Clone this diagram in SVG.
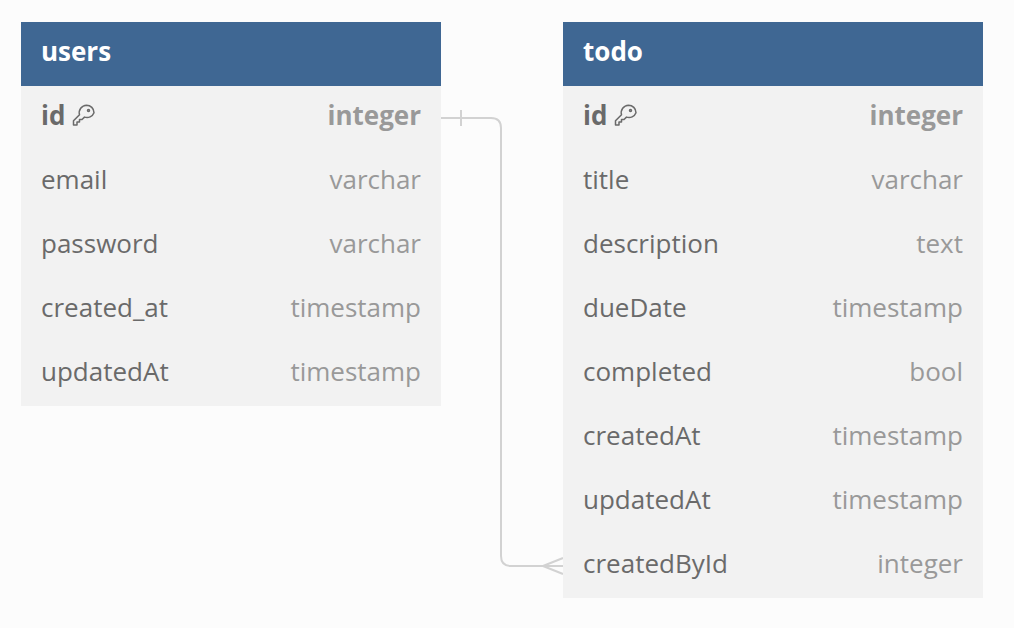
<svg xmlns="http://www.w3.org/2000/svg" width="1014" height="628" viewBox="0 0 1014 628">
<style>
text{font-family:"Open Sans","Noto Sans","DejaVu Sans",sans-serif;font-size:26px}
.h{fill:#3f6793}.b{fill:#f2f2f2}
.t{fill:#fff;font-weight:700;font-size:26px}
.n{fill:#6a6a6a}.k{fill:#6a6a6a;font-weight:700}
.y{fill:#999;text-anchor:end}.yk{fill:#999;text-anchor:end;font-weight:700}
.c{fill:none;stroke:#d2d2d2;stroke-width:2}
.key{fill:none;stroke:#6a6a6a;stroke-width:1.5;stroke-linejoin:round}
</style>
<defs><g id="key"><path class="key" d="M6.500-12.800A7.500 7.500 0 0 1 14-5.300A7.500 7.500 0 0 1 4.500-.9L2 1.500H-.5V4H-3V7H-6.500V2.800L-.5-3.300A7.500 7.500 0 0 1 6.500-12.800Z"/><circle class="key" cx="8.500" cy="-7.500" r="1"/></g></defs>
<rect width="1014" height="628" fill="#fcfcfc"/>
<g id="connectors"><path class="c" d="M441 118H491Q501 118 501 128V556Q501 566 511 566H563M461 110V126M543 566L563 558M543 566L563 574"/></g>
<g id="users"><rect class="b" x="21" y="22" width="420" height="384"/><rect class="h" x="21" y="22" width="420" height="64"/>
<text class="t" x="41" y="61">users</text>
<text class="k" x="41" y="125">id</text><use href="#key" x="80" y="118"/><text class="yk" x="421" y="125">integer</text>
<text class="n" x="41" y="189">email</text><text class="y" x="421" y="189">varchar</text>
<text class="n" x="41" y="253">password</text><text class="y" x="421" y="253">varchar</text>
<text class="n" x="41" y="317">created_at</text><text class="y" x="421" y="317">timestamp</text>
<text class="n" x="41" y="381">updatedAt</text><text class="y" x="421" y="381">timestamp</text></g>
<g id="todo"><rect class="b" x="563" y="22" width="420" height="576"/><rect class="h" x="563" y="22" width="420" height="64"/>
<text class="t" x="583" y="61">todo</text>
<text class="k" x="583" y="125">id</text><use href="#key" x="622" y="118"/><text class="yk" x="963" y="125">integer</text>
<text class="n" x="583" y="189">title</text><text class="y" x="963" y="189">varchar</text>
<text class="n" x="583" y="253">description</text><text class="y" x="963" y="253">text</text>
<text class="n" x="583" y="317">dueDate</text><text class="y" x="963" y="317">timestamp</text>
<text class="n" x="583" y="381">completed</text><text class="y" x="963" y="381">bool</text>
<text class="n" x="583" y="445">createdAt</text><text class="y" x="963" y="445">timestamp</text>
<text class="n" x="583" y="509">updatedAt</text><text class="y" x="963" y="509">timestamp</text>
<text class="n" x="583" y="573">createdById</text><text class="y" x="963" y="573">integer</text></g>
</svg>
